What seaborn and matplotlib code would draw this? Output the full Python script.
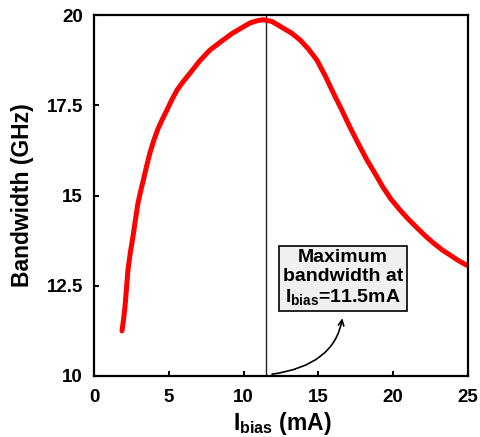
import matplotlib
matplotlib.use("Agg")
import matplotlib.pyplot as plt
import seaborn as sns
import pandas as pd

# ---- data ----
current_ma = [1.87, 1.97, 2.07, 2.17, 2.27, 2.43, 2.60, 2.77, 2.94, 3.12, 3.30,
              3.52, 3.74, 4.00, 4.28, 4.58, 4.88, 5.20, 5.55, 5.95, 6.42, 7.05,
              7.75, 8.45, 9.20, 9.85, 10.43, 10.90, 11.30, 11.90, 12.63, 13.20,
              13.77, 14.35, 14.90, 15.45, 16.00, 16.55, 17.10, 17.65, 18.25,
              18.80, 19.30, 19.85, 20.45, 21.00, 21.60, 22.15, 22.70, 23.25,
              23.80, 24.35, 24.90]
bandwidth_ghz = [11.25, 11.55, 11.91, 12.42, 12.94, 13.42, 13.85, 14.33, 14.79,
                 15.12, 15.43, 15.82, 16.18, 16.53, 16.85, 17.12, 17.37, 17.65,
                 17.92, 18.15, 18.39, 18.72, 19.03, 19.25, 19.48, 19.64, 19.78,
                 19.84, 19.87, 19.82, 19.64, 19.50, 19.31, 19.05, 18.75, 18.32,
                 17.84, 17.38, 16.90, 16.45, 15.98, 15.60, 15.24, 14.90, 14.60,
                 14.35, 14.10, 13.88, 13.68, 13.50, 13.35, 13.20, 13.07]
x_ticks = [0, 5, 10, 15, 20, 25]
y_ticks = [10, 12.5, 15, 17.5, 20]
y_tick_labels = ["10", "12.5", "15", "17.5", "20"]
peak_current = 11.5
box_text = "Maximum\nbandwidth at\n$\\mathbf{I}_{\\mathbf{bias}}$=11.5mA"
x_label = "$\\mathbf{I}_{\\mathbf{bias}}$ (mA)"
y_label = "Bandwidth (GHz)"

sns.set_style("ticks")
plt.rcParams["font.family"] = ["Liberation Sans", "DejaVu Sans"]
plt.rcParams["mathtext.fontset"] = "custom"
plt.rcParams["mathtext.rm"] = "Liberation Sans"
plt.rcParams["mathtext.bf"] = "Liberation Sans:bold"
plt.rcParams["mathtext.it"] = "Liberation Sans:italic"
plt.rcParams["text.color"] = "black"
plt.rcParams["axes.labelcolor"] = "black"
plt.rcParams["xtick.color"] = "black"
plt.rcParams["ytick.color"] = "black"

df = pd.DataFrame({"I": current_ma, "BW": bandwidth_ghz})

fig = plt.figure(figsize=(4.81, 4.37), dpi=100)
ax = fig.add_axes([94 / 481, 1 - 376 / 437, 374 / 481, 361 / 437])

sns.lineplot(data=df, x="I", y="BW", ax=ax, sort=False, color="#ff0000",
             lw=3.6, solid_capstyle="round", solid_joinstyle="round",
             errorbar=None)

ax.axvline(peak_current, color="#222222", lw=1.0, zorder=1)

ax.set_xlim(0, 25)
ax.set_ylim(10, 20)
ax.set_xticks(x_ticks)
ax.set_xticklabels([str(t) for t in x_ticks])
ax.set_yticks(y_ticks)
ax.set_yticklabels(y_tick_labels)
for lab in ax.get_xticklabels() + ax.get_yticklabels():
    lab.set_fontweight("bold")
    lab.set_fontsize(13.5)
    lab.set_color("black")
ax.tick_params(axis="x", direction="in", length=3.5, width=1.5, pad=9.5)
ax.tick_params(axis="y", direction="in", length=3.5, width=1.5, pad=8)
for sp in ax.spines.values():
    sp.set_visible(True)
    sp.set_linewidth(1.6)
    sp.set_color("black")

ax.set_xlabel(x_label, fontsize=16.5, fontweight="bold", color="black")
ax.set_ylabel(y_label, fontsize=16.5, fontweight="bold", color="black")
ax.xaxis.set_label_coords(0.503, -0.095)
ax.yaxis.set_label_coords(-0.16, 0.5)

ax.text(16.64, 12.71, box_text, ha="center", va="center", multialignment="center",
        fontsize=14, fontweight="bold", linespacing=1.15, color="black",
        bbox=dict(boxstyle="square,pad=0.2", fc="#f0f0f0", ec="black", lw=1.2))

ax.annotate("", xy=(16.6, 11.6), xytext=(11.9, 10.05),
            arrowprops=dict(arrowstyle="->", color="black", lw=1.2,
                            connectionstyle="angle3,angleA=8,angleB=80",
                            shrinkA=0, shrinkB=0))

fig.savefig("out.png", dpi=100)
